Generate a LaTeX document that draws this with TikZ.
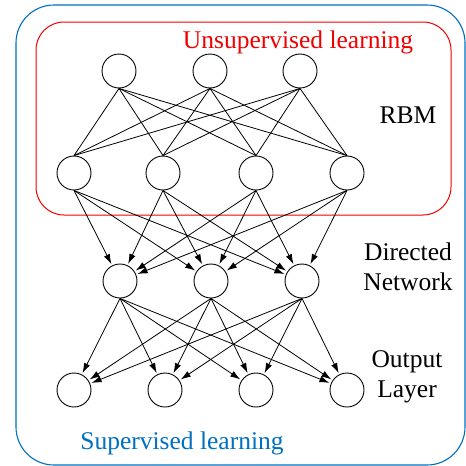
\documentclass[tikz,border=0pt]{standalone}
\usepackage{fontspec}
\setmainfont{Liberation Serif}
\usetikzlibrary{arrows.meta}
\definecolor{supblue}{RGB}{0,112,192}
\definecolor{unsred}{RGB}{240,0,0}
\begin{document}
\begin{tikzpicture}[x=1pt,y=-1pt,
  neuron/.style={circle,draw,minimum size=34pt,inner sep=0pt,line width=0.9pt},
  link/.style={line width=0.8pt},
  arr/.style={line width=0.8pt,shorten >=1.5pt,-{Latex[length=10pt,width=6.5pt]}},
  lbl/.style={font=\fontsize{25.5}{30}\selectfont,align=center,inner sep=0pt}]
\useasboundingbox (0,0) rectangle (466,466);
% boxes
\draw[supblue,line width=1.1pt,rounded corners=38pt] (16,5) rectangle (465,465);
\draw[unsred,line width=1pt,rounded corners=28pt] (36,22) rectangle (451,215);
% nodes
\node[neuron] (t1) at (119,71) {};
\node[neuron] (t2) at (210,71) {};
\node[neuron] (t3) at (300,71) {};
\node[neuron] (h1) at (74,173) {};
\node[neuron] (h2) at (163,173) {};
\node[neuron] (h3) at (256,173) {};
\node[neuron] (h4) at (347,173) {};
\node[neuron] (d1) at (120,281) {};
\node[neuron] (d2) at (211,281) {};
\node[neuron] (d3) at (302,281) {};
\node[neuron] (o1) at (74,390) {};
\node[neuron] (o2) at (165,390) {};
\node[neuron] (o3) at (256,390) {};
\node[neuron] (o4) at (347,390) {};
% connections
\foreach \i in {1,2,3}{\foreach \j in {1,2,3,4}{
  \draw[link] (t\i.south) -- (h\j.north);}}
\foreach \i in {1,2,3,4}{\foreach \j in {1,2,3}{
  \draw[arr] (h\i.south) -- (d\j);}}
\foreach \i in {1,2,3}{\foreach \j in {1,2,3,4}{
  \draw[arr] (d\i.south) -- (o\j);}}
% labels
\node[lbl,text=unsred] (unsup) at (298,42.5) {Unsupervised learning};
\node[lbl] (rbm) at (408,115) {RBM};
\node[lbl] (dir) at (408,266.5) {Directed\\Network};
\node[lbl] (out) at (407,376.5) {Output\\Layer};
\node[lbl,text=supblue] (sup) at (182,443.5) {Supervised learning};
\end{tikzpicture}
\end{document}
